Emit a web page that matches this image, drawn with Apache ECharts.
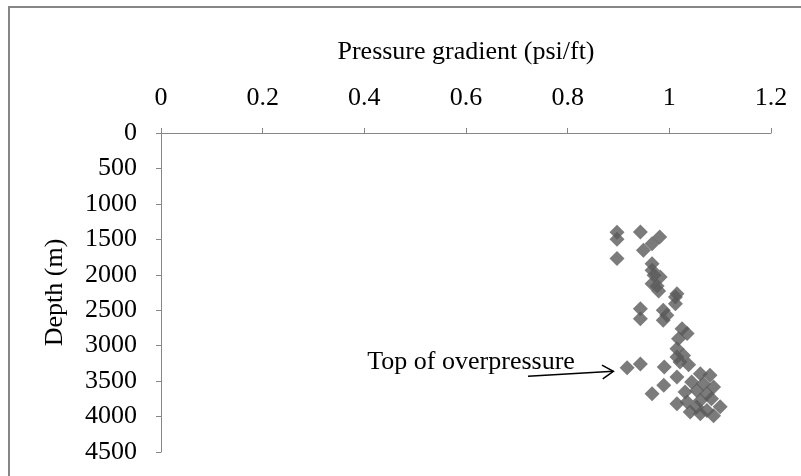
<!DOCTYPE html>
<html>
<head>
<meta charset="utf-8">
<script src="https://cdn.jsdelivr.net/npm/echarts@6/dist/echarts.min.js"></script>
<style>
html,body{margin:0;padding:0;background:#fff;}
#c{width:801px;height:476px;}
</style>
</head>
<body>
<div id="c"></div>
<script>
// Data
var gradient = [0.897,0.897,0.897,0.943,0.981,0.966,0.949,0.966,0.966,0.970,0.982,0.966,0.976,0.979,
  1.015,1.012,1.012,0.943,0.943,0.988,0.995,0.988,1.025,1.035,1.018,1.015,1.028,1.015,
  0.917,0.943,0.990,1.021,1.038,0.989,0.966,1.015,1.061,1.080,1.044,1.067,1.087,1.054,1.074,1.031,
  1.015,1.035,1.054,1.074,1.083,1.061,1.041,1.061,1.087,1.100];
var depth = [1400,1500,1770,1397,1467,1561,1655,1843,1937,2008,2032,2125,2160,2230,
  2266,2314,2407,2478,2619,2502,2570,2643,2760,2830,2901,3042,3137,3161,
  3310,3260,3300,3231,3270,3560,3677,3443,3395,3419,3513,3536,3584,3631,3677,3655,
  3818,3796,3866,3913,3748,3772,3937,3960,3990,3860];
var xTicks = [0,0.2,0.4,0.6,0.8,1,1.2];
var yTicks = [0,500,1000,1500,2000,2500,3000,3500,4000,4500];
var xTitle = 'Pressure gradient (psi/ft)';
var yTitle = 'Depth (m)';
var annotationText = 'Top of overpressure';
var annotationAt = [0.610, 3230];
var arrowFrom = [0.722, 3433];
var arrowTo = [0.890, 3362];

var pts = gradient.map(function(g,i){return [g, depth[i]];});
var font = 'Liberation Serif, Times New Roman, serif';
var axisGray = '#868686';

var chart = echarts.init(document.getElementById('c'), null, {renderer:'canvas'});
chart.setOption({
  animation:false,
  backgroundColor:'#fff',
  grid:{left:161,right:30,top:133,bottom:24,containLabel:false},
  xAxis:{
    type:'value', position:'top', min:xTicks[0], max:xTicks[xTicks.length-1], interval:0.2,
    name:xTitle, nameLocation:'middle', nameGap:68,
    nameTextStyle:{fontFamily:font,fontSize:26,color:'#000'},
    axisLine:{show:true,lineStyle:{color:axisGray,width:1}},
    axisTick:{show:true,inside:false,length:5,lineStyle:{color:axisGray}},
    axisLabel:{fontFamily:font,fontSize:26,color:'#000',margin:22,
      formatter:function(v){return String(Math.round(v*10)/10);}},
    splitLine:{show:false}
  },
  yAxis:{
    type:'value', inverse:true, min:yTicks[0], max:yTicks[yTicks.length-1], interval:500,
    name:yTitle, nameLocation:'middle', nameGap:93, nameRotate:90,
    nameTextStyle:{fontFamily:font,fontSize:26,color:'#000'},
    axisLine:{show:true,lineStyle:{color:axisGray,width:1}},
    axisTick:{show:true,inside:false,length:5,lineStyle:{color:axisGray}},
    axisLabel:{fontFamily:font,fontSize:26,color:'#000',margin:24,
      formatter:function(v){return String(v);}},
    splitLine:{show:false}
  },
  series:[{
    type:'scatter',
    data:pts,
    symbol:'diamond',
    symbolSize:15,
    itemStyle:{color:'#5a5a5a'}
  }]
});

// Annotation (text + open arrow) placed in data coordinates
var a = chart.convertToPixel({gridIndex:0}, arrowFrom);
var b = chart.convertToPixel({gridIndex:0}, arrowTo);
var t = chart.convertToPixel({gridIndex:0}, annotationAt);
var ang = Math.atan2(b[1]-a[1], b[0]-a[0]);
var hl = 13, hw = 0.55;
var h1 = [b[0]-hl*Math.cos(ang-hw), b[1]-hl*Math.sin(ang-hw)];
var h2 = [b[0]-hl*Math.cos(ang+hw), b[1]-hl*Math.sin(ang+hw)];
chart.setOption({
  graphic:[
    {type:'rect',shape:{x:9,y:7,width:830,height:520},style:{fill:'none',stroke:axisGray,lineWidth:2},z:-10,silent:true},
    {type:'line',shape:{x1:a[0],y1:a[1],x2:b[0],y2:b[1]},style:{stroke:'#000',lineWidth:1.5},z:10,silent:true},
    {type:'polyline',shape:{points:[h1,b,h2]},style:{stroke:'#000',fill:'none',lineWidth:1.5},z:10,silent:true},
    {type:'text',x:t[0],y:t[1],style:{text:annotationText,font:'26px '+font,fill:'#000',align:'center',verticalAlign:'middle'},z:11,silent:true}
  ]
});
</script>
</body>
</html>
